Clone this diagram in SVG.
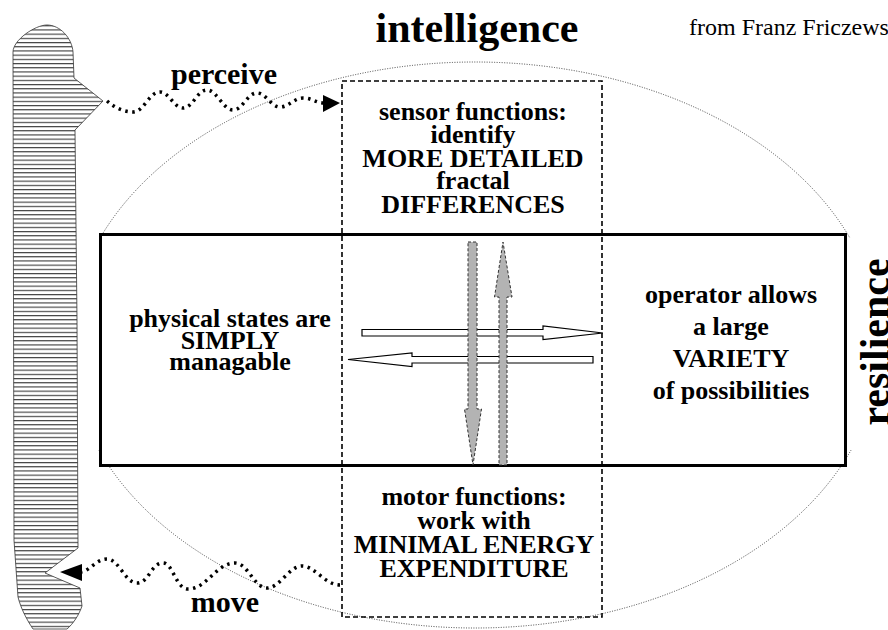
<svg xmlns="http://www.w3.org/2000/svg" width="888" height="630" viewBox="0 0 888 630">
<style>
  .t { font-family: "Liberation Serif", "Times New Roman", serif; font-weight: bold; fill: #000; text-anchor: middle; }
  .n { font-family: "Liberation Serif", "Times New Roman", serif; fill: #000; }
  .wave { fill: none; stroke: #000; stroke-width: 3.5; stroke-dasharray: 2.5 4.5; }
  .gray { fill: #b3b3b3; stroke: #333; stroke-width: 1; stroke-dasharray: 3 2; }
  .hollow { fill: #fff; stroke: #000; stroke-width: 1.2; }
</style>
<defs>
  <pattern id="stripes" patternUnits="userSpaceOnUse" width="10" height="4.2">
    <rect width="10" height="4.2" fill="#fff"/>
    <line x1="0" y1="0.6" x2="10" y2="0.6" stroke="#222" stroke-width="1"/>
  </pattern>
  <clipPath id="ellClip">
    <rect x="0" y="0" width="888" height="238"/>
    <rect x="0" y="450" width="888" height="180"/>
  </clipPath>
</defs>
<rect width="888" height="630" fill="#fff"/>

<g id="ellipse">
  <ellipse cx="475" cy="345" rx="405" ry="283" fill="none" stroke="#444" stroke-width="1" stroke-dasharray="1 1.5" clip-path="url(#ellClip)"/>
</g>

<g id="operator-box">
  <rect x="100.5" y="234.5" width="745" height="231" fill="#fff" stroke="#000" stroke-width="3"/>
  <text class="t" font-size="26"><tspan x="230" y="327">physical states are</tspan><tspan x="230" y="349">SIMPLY</tspan><tspan x="230" y="370">managable</tspan></text>
  <text class="t" font-size="26"><tspan x="731" y="303">operator allows</tspan><tspan x="731" y="335">a large</tspan><tspan x="731" y="367">VARIETY</tspan><tspan x="731" y="399">of possibilities</tspan></text>
</g>

<g id="function-box">
  <rect x="342" y="81" width="260" height="536" fill="none" stroke="#000" stroke-width="1.6" stroke-dasharray="5 3"/>
  <text class="t" font-size="26"><tspan x="473" y="120">sensor functions:</tspan><tspan x="473" y="143">identify</tspan><tspan x="473" y="167">MORE DETAILED</tspan><tspan x="473" y="189">fractal</tspan><tspan x="473" y="213">DIFFERENCES</tspan></text>
  <text class="t" font-size="26"><tspan x="474" y="505">motor functions:</tspan><tspan x="474" y="529">work with</tspan><tspan x="474" y="553">MINIMAL ENERGY</tspan><tspan x="474" y="577">EXPENDITURE</tspan></text>
</g>

<g id="titles">
  <text class="t" font-size="42" x="477" y="42">intelligence</text>
  <text class="n" font-size="24" x="689" y="35">from Franz Friczews</text>
  <text class="t" font-size="42" transform="translate(889,342) rotate(-90)" x="0" y="0">resilience</text>
</g>

<g id="body">
  <path d="M13,52 C13,40 35,25 47,25 C60,25 72,38 73,52 L74,78 L103,101 L75,130 L77,320 L78,548 L45,573 L80,588 L82,606 C79,615 73,624 67,629 L33,629 C27,620 21,609 18,597 L14,540 Z" fill="url(#stripes)" stroke="#333" stroke-width="0.8"/>
</g>

<g id="connectors">
  <path class="hollow" d="M362,329.5 L543,329.5 L543,326 L603,333 L543,339.5 L543,336 L362,336 Z"/>
  <path class="hollow" d="M593,356.5 L412,356.5 L412,353 L348,359.5 L412,366.5 L412,363 L593,363 Z"/>
  <path class="gray" d="M468,242 L477,242 L477,409 L481.5,409 L473,465 L464.5,409 L468,409 Z"/>
  <path class="gray" d="M499,465 L507,465 L507,297 L512,297 L503,242 L494.5,297 L499,297 Z"/>

  <path class="wave" d="M107,101 C115,108 124,112 133,112 C144,112 149,92 160,92 C169,92 174,108 183,108 C193,108 197,90 207,90 C217,90 223,110 233,110 C243,110 247,93 257,93 C266,93 271,107 280,107 C289,107 294,98 303,98 C312,98 316,103 324,103"/>
  <path d="M323,95 L340,103 L323,112 Z" fill="#000"/>
  <text class="t" font-size="30" x="224" y="84">perceive</text>

  <path class="wave" d="M340,585 C325,585 315,566 302,566 C289,566 280,588 267,588 C254,588 248,563 235,563 C216,563 207,589 188,589 C176,589 173,563 163,563 C151,563 149,583 137,583 C125,583 119,559 107,559 C97,559 90,570 82,572"/>
  <path d="M82,564 L60,572 L82,581 Z" fill="#000"/>
  <text class="t" font-size="30" x="225" y="612">move</text>
</g>
</svg>
